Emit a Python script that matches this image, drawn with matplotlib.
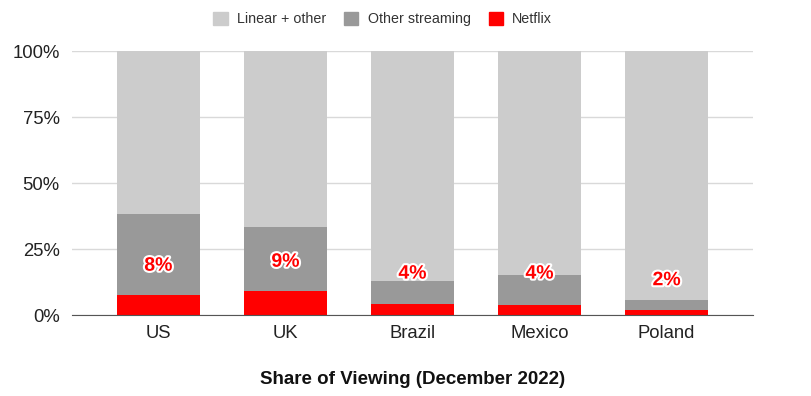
import matplotlib.pyplot as plt
from matplotlib.patches import Patch
import matplotlib.patheffects as pe

plt.rcParams['font.family'] = ['Liberation Sans', 'DejaVu Sans']

countries = ["US", "UK", "Brazil", "Mexico", "Poland"]
netflix = [7.5, 9.1, 4.2, 3.8, 1.9]
other_streaming = [30.8, 24.2, 8.7, 11.4, 3.8]
label_text = ["8%", "9%", "4%", "4%", "2%"]
label_y = [18.5, 20.0, 15.5, 15.5, 13.0]

linear = [100 - n - o for n, o in zip(netflix, other_streaming)]
stream_top = [n + o for n, o in zip(netflix, other_streaming)]

fig = plt.figure(figsize=(8.11, 3.96), dpi=100)
ax = fig.add_axes([0.0888, 0.2045, 0.8397, 0.6665])

x = range(len(countries))
w = 0.65
ax.bar(x, netflix, w, color="#ff0000", zorder=3)
ax.bar(x, other_streaming, w, bottom=netflix, color="#999999", zorder=3)
ax.bar(x, linear, w, bottom=stream_top, color="#cccccc", zorder=3)

for i, t in enumerate(label_text):
    ax.text(i, label_y[i], t, ha="center", va="center", color="#ff0000",
            fontsize=14, fontweight="bold", zorder=5,
            path_effects=[pe.withStroke(linewidth=3, foreground="white")])

ax.set_xlim(-0.68, 4.68)
ax.set_ylim(0, 100)
ax.set_yticks([0, 25, 50, 75, 100])
ax.set_yticklabels(["0%", "25%", "50%", "75%", "100%"])
ax.set_xticks(list(x))
ax.set_xticklabels(countries)
ax.grid(axis="y", color="#d9d9d9", linewidth=1, zorder=0)
for s in ["top", "right", "left"]:
    ax.spines[s].set_visible(False)
ax.spines["bottom"].set_color("#555555")
ax.spines["bottom"].set_zorder(4)
ax.tick_params(axis="both", length=0, labelsize=13.3, colors="#222222")
ax.tick_params(axis="y", pad=9)
ax.tick_params(axis="x", pad=7)

ax.set_xlabel("Share of Viewing (December 2022)", fontsize=13.5,
              fontweight="bold", color="#111111", labelpad=21)

handles = [Patch(color="#cccccc", label="Linear + other"),
           Patch(color="#999999", label="Other streaming"),
           Patch(color="#ff0000", label="Netflix")]
fig.legend(handles=handles, loc="center", bbox_to_anchor=(0.472, 0.952), ncol=3,
           frameon=False, fontsize=10.3, handlelength=1.0, handleheight=1.0,
           columnspacing=1.25, handletextpad=0.65, labelcolor="#333333")

fig.savefig("out.png", dpi=100)
